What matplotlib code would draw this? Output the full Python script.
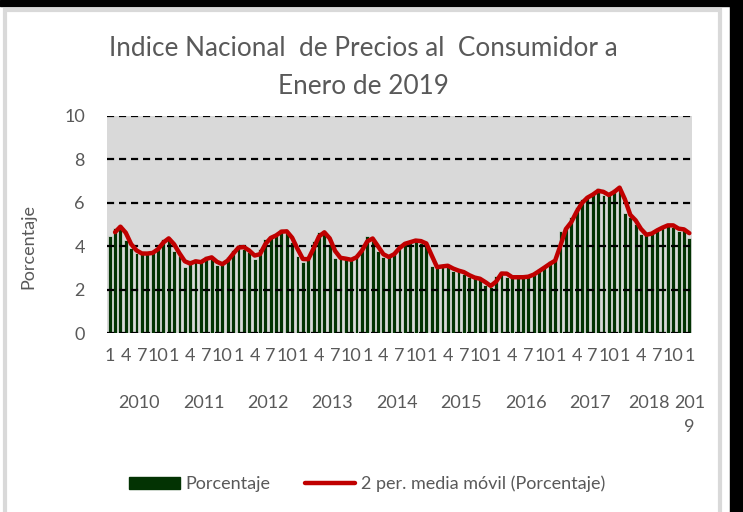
import numpy as np
import pandas as pd
import matplotlib
matplotlib.use('Agg')
import matplotlib.pyplot as plt
from matplotlib.patches import Rectangle
from matplotlib.lines import Line2D

# Inflación anual INPC, enero 2010 - enero 2019 (porcentaje)
years = ['2010', '2011', '2012', '2013', '2014', '2015', '2016', '2017', '2018', '201\n9']
values = [
    4.46, 4.83, 4.97, 4.27, 3.92, 3.69, 3.64, 3.68, 3.70, 4.02, 4.32, 4.40,   # 2010
    3.78, 3.57, 3.04, 3.36, 3.25, 3.28, 3.55, 3.42, 3.14, 3.20, 3.48, 3.82,   # 2011
    4.05, 3.87, 3.73, 3.41, 3.85, 4.34, 4.42, 4.57, 4.77, 4.60, 4.18, 3.57,   # 2012
    3.25, 3.55, 4.25, 4.65, 4.63, 4.09, 3.47, 3.46, 3.39, 3.36, 3.62, 3.97,   # 2013
    4.48, 4.23, 3.76, 3.50, 3.51, 3.75, 4.07, 4.15, 4.22, 4.30, 4.17, 4.08,   # 2014
    3.07, 3.00, 3.14, 3.06, 2.88, 2.87, 2.74, 2.59, 2.52, 2.48, 2.21, 2.13,   # 2015
    2.61, 2.87, 2.60, 2.54, 2.60, 2.54, 2.65, 2.73, 2.97, 3.06, 3.31, 3.36,   # 2016
    4.72, 4.86, 5.35, 5.82, 6.16, 6.31, 6.44, 6.66, 6.35, 6.37, 6.63, 6.77,   # 2017
    5.55, 5.34, 5.04, 4.55, 4.51, 4.65, 4.81, 4.90, 5.02, 4.90, 4.72, 4.83,   # 2018
    4.37,                                                                     # 2019
]
month_labels = ['1', '4', '7', '10']

df = pd.DataFrame({'Porcentaje': values})
df['media'] = df['Porcentaje'].rolling(2).mean()
x = np.arange(len(df))

gray_txt = '#595959'
plt.rcParams['font.family'] = ['Lato', 'DejaVu Sans']

fig = plt.figure(figsize=(7.43, 5.12), dpi=100)
ax = fig.add_axes([107 / 743, 1 - 333 / 512, 585 / 743, 217 / 512])
ax.set_facecolor('#d9d9d9')

# barras
ax.bar(x, df['Porcentaje'], width=0.72, color='#033303',
       edgecolor='#e6e6e6', linewidth=0.5, zorder=2)

# líneas de cuadrícula discontinuas sobre las barras
for y in range(0, 11, 2):
    ax.axhline(y, color='black', lw=1.6, ls=(0, (3.2, 2.2)), zorder=3)

# media móvil
ax.plot(x, df['media'], color='#c00000', lw=3.2, solid_capstyle='round',
        solid_joinstyle='round', zorder=4)

ax.set_xlim(-0.5, len(df) - 0.5)
ax.set_ylim(0, 10)
ax.set_yticks(range(0, 11, 2))
ax.tick_params(axis='y', length=0, pad=16, labelsize=13, labelcolor=gray_txt)
for s in ax.spines.values():
    s.set_visible(False)

# meses 1, 4, 7, 10
pos = [i for i in x if (i % 12) in (0, 3, 6, 9)]
labs = [month_labels[(i % 12) // 3] for i in pos]
ax.set_xticks(pos, labs)
ax.tick_params(axis='x', length=0, pad=11, labelsize=13, labelcolor=gray_txt)

# años
for k, yr in enumerate(years):
    start = k * 12
    end = min(start + 11, len(df) - 1)
    cx = (start + end) / 2
    if k == 8:
        cx -= 1
    ax.text(cx, -0.285, yr, transform=ax.get_xaxis_transform(), ha='center',
            va='top', fontsize=13, color=gray_txt, linespacing=1.6)

ax.set_ylabel('Porcentaje', fontsize=13, color=gray_txt)
ax.yaxis.set_label_coords(-0.12, 0.4)

# título
fig.text(363 / 743, 1 - 49 / 512, 'Indice Nacional  de Precios al  Consumidor a',
         ha='center', va='center', fontsize=18.8, color=gray_txt)
fig.text(363 / 743, 1 - 86 / 512, 'Enero de 2019',
         ha='center', va='center', fontsize=18.8, color=gray_txt)

# leyenda
handles = [Rectangle((0, 0), 1, 1, color='#033303'),
           Line2D([], [], color='#c00000', lw=3.2, solid_capstyle='round')]
fig.legend(handles, ['Porcentaje', '2 per. media móvil (Porcentaje)'],
           loc='center', bbox_to_anchor=(367 / 743, 1 - 484 / 512), ncol=2,
           frameon=False, fontsize=13, handlelength=2.8, handleheight=0.6,
           handletextpad=0.3, columnspacing=1.9, labelcolor=gray_txt)

# marco
fig.patches.append(Rectangle((0, 1 - 6 / 512), 1, 6 / 512, transform=fig.transFigure,
                             color='black', zorder=0))
fig.patches.append(Rectangle((730 / 743, 0), 13 / 743, 1, transform=fig.transFigure,
                             color='black', zorder=0))
fig.patches.append(Rectangle((5 / 743, -0.05), 715 / 743, 1.05 - 10 / 512,
                             transform=fig.transFigure, fill=False,
                             edgecolor='#d9d9d9', lw=3, zorder=0))

fig.savefig('out.png', dpi=100)
